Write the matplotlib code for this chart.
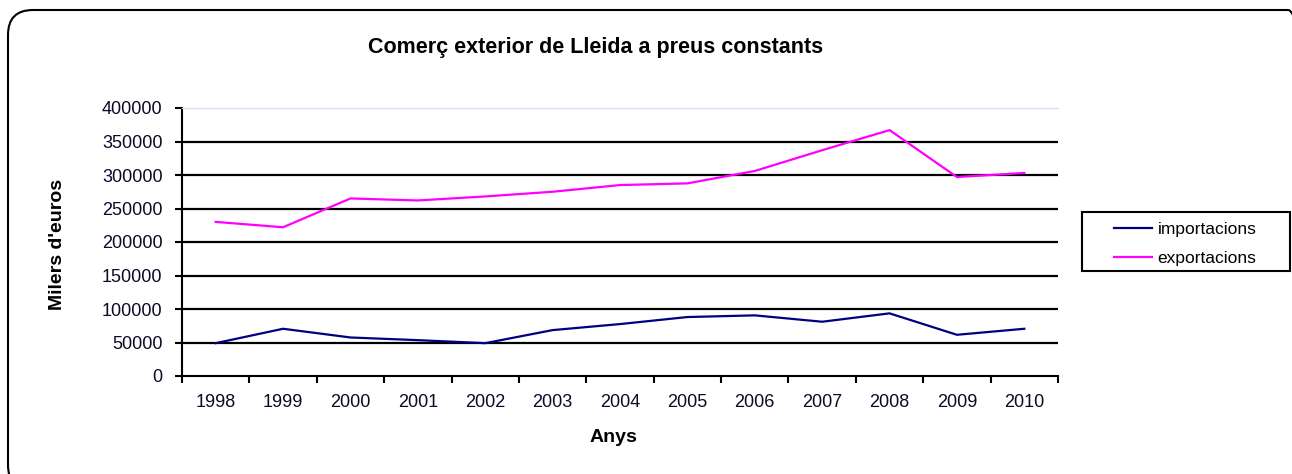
import matplotlib
matplotlib.use("Agg")
import matplotlib.pyplot as plt
from matplotlib.patches import FancyBboxPatch, Rectangle
from matplotlib.transforms import IdentityTransform
import numpy as np

plt.rcParams['font.family'] = ['Liberation Sans', 'DejaVu Sans']

years = ['1998', '1999', '2000', '2001', '2002', '2003', '2004', '2005',
         '2006', '2007', '2008', '2009', '2010']
importacions = [49000, 70500, 57500, 53500, 49000, 68500, 77500, 88000,
                90500, 81000, 93500, 61500, 70500]
exportacions = [230000, 222000, 265000, 262000, 268000, 275000, 285000, 287500,
                306000, 337000, 367000, 297000, 303000]
yticks = [0, 50000, 100000, 150000, 200000, 250000, 300000, 350000, 400000]

W, H = 1292, 474
fig = plt.figure(figsize=(W / 100, H / 100), dpi=100)

def fx(px):
    return px / W

def fy(py):
    return 1 - py / H

# outer rounded frame (partly cut off at right/bottom), in pixel coordinates
frame = FancyBboxPatch((8, H - 490), 1305, 480,
                       boxstyle="round,pad=0,rounding_size=25",
                       transform=IdentityTransform(), fill=False,
                       edgecolor='black', linewidth=1.5)
fig.patches.append(frame)

ax = fig.add_axes([fx(182), fy(376), (1058 - 182) / W, (376 - 108) / H])
x = np.arange(len(years))
l1, = ax.plot(x, importacions, color='#000080', linewidth=1.6, label='importacions')
l2, = ax.plot(x, exportacions, color='#FF00FF', linewidth=1.6, label='exportacions')

ax.set_xlim(-0.5, len(years) - 0.5)
ax.set_ylim(0, 400000)
ax.set_yticks(yticks)
ax.set_yticklabels([str(v) for v in yticks], fontsize=13, color='#0a0a28')
for v in yticks[1:-1]:
    ax.axhline(v, color='black', linewidth=1.6, zorder=0.5)

ax.set_xticks(np.arange(-0.5, len(years), 1.0))
ax.set_xticklabels([])
ax.set_xticks(x, minor=True)
ax.set_xticklabels(years, minor=True, fontsize=13, color='#0a0a28')
ax.tick_params(axis='x', which='major', direction='out', length=5, width=1.5)
ax.tick_params(axis='x', which='minor', length=0, pad=13)
ax.tick_params(axis='y', direction='out', length=5, width=1.5, pad=9)

ax.spines['right'].set_visible(False)
ax.spines['top'].set_color('#dcdcf0')
ax.spines['top'].set_linewidth(1.0)
ax.spines['left'].set_linewidth(1.5)
ax.spines['bottom'].set_linewidth(1.5)

fig.text(fx(596), fy(47), "Comerç exterior de Lleida a preus constants",
         fontsize=15.5, fontweight='bold', ha='center', va='center')
fig.text(fx(613), fy(438), "Anys", fontsize=14, fontweight='bold',
         ha='center', va='center')
fig.text(fx(57), fy(244), "Milers d'euros", fontsize=14, fontweight='bold',
         ha='center', va='center', rotation=90)

# legend box
fig.patches.append(Rectangle((fx(1082), fy(271)), (1290 - 1082) / W, (271 - 212) / H,
                             transform=fig.transFigure, fill=False,
                             edgecolor='black', linewidth=1.5))
leg = fig.legend(handles=[l1, l2], loc='upper left',
                 bbox_to_anchor=(fx(1114), fy(222)),
                 fontsize=12.5, frameon=False, borderpad=0, borderaxespad=0,
                 handlelength=2.2, labelspacing=0.8, handletextpad=0.3)

fig.savefig("out.png", dpi=100)
